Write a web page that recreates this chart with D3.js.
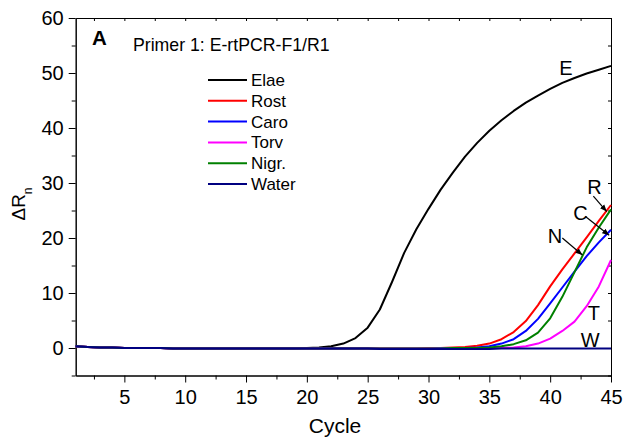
<!DOCTYPE html>
<html>
<head>
<meta charset="utf-8">
<script src="https://cdn.jsdelivr.net/npm/d3@7"></script>
<style>
  body { margin: 0; background: #fff; }
  svg { display: block; font-family: Arial, "Liberation Sans", sans-serif; }
</style>
</head>
<body>
<svg id="chart" width="625" height="444"></svg>
<script>
// amplification data, cycles 1..45
const cycles = d3.range(1, 46);
const elae = [0.3,0.2,0.1,0.1,0,0,0,0,-0.1,-0.1,-0.1,-0.1,-0.1,-0.1,-0.1,-0.1,-0.1,-0.1,-0.1,0,
  0.1,0.3,0.8,1.8,3.7,7.0,12.0,17.3,21.6,25.3,28.8,31.9,34.8,37.3,39.5,41.4,43.1,44.6,45.9,47.1,48.2,49.1,49.9,50.6,51.3];
const rost = [0.3,0.2,0.1,0.1,0,0,0,0,-0.1,-0.1,-0.1,-0.1,-0.1,-0.1,-0.1,-0.1,-0.1,-0.1,-0.1,-0.1,
  -0.1,-0.1,-0.1,-0.1,-0.1,-0.1,-0.1,-0.1,-0.1,0,0,0.1,0.2,0.4,0.8,1.6,2.9,4.9,7.8,11.2,14.3,17.2,20.1,23.1,26.0];
const caro = [0.3,0.2,0.1,0.1,0,0,0,0,-0.1,-0.1,-0.1,-0.1,-0.1,-0.1,-0.1,-0.1,-0.1,-0.1,-0.1,-0.1,
  -0.1,-0.1,-0.1,-0.1,-0.1,-0.1,-0.1,-0.1,-0.1,-0.1,0,0,0,0.1,0.3,0.8,1.6,3.1,5.3,8.1,11.0,13.9,16.7,19.2,21.5];
const torv = [0.3,0.2,0.1,0.1,0,0,0,0,-0.1,-0.1,-0.1,-0.1,-0.1,-0.1,-0.1,-0.1,-0.1,-0.1,-0.1,-0.1,
  -0.1,-0.1,-0.1,-0.1,-0.1,-0.1,-0.1,-0.1,-0.1,-0.1,-0.1,-0.1,0,0,0,0,0.1,0.3,0.8,1.7,3.1,4.8,7.6,11.2,16.0];
const nigr = [0.3,0.2,0.1,0.1,0,0,0,0,-0.1,-0.1,-0.1,-0.1,-0.1,-0.1,-0.1,-0.1,-0.1,-0.1,-0.1,-0.1,
  -0.1,-0.1,-0.1,-0.1,-0.1,-0.1,-0.1,-0.1,-0.1,-0.1,-0.1,0,0,0,0.1,0.3,0.7,1.4,2.8,5.4,9.3,13.8,18.3,21.9,25.2];
const water = [0.3,0.2,0.1,0.1,0,0,0,0,-0.1,-0.1,-0.1,-0.1,-0.1,-0.1,-0.1,-0.1,-0.1,-0.1,-0.1,-0.1,
  -0.1,-0.1,-0.1,-0.1,-0.1,-0.2,-0.2,-0.2,-0.2,-0.2,-0.2,-0.2,-0.2,-0.2,-0.2,-0.1,-0.1,-0.1,-0.1,-0.1,-0.1,-0.1,-0.1,-0.1,-0.1];

const seriesNames = ['Elae', 'Rost', 'Caro', 'Torv', 'Nigr.', 'Water'];
const seriesValues = [elae, rost, caro, torv, nigr, water];
const seriesColors = ['#000000', '#ff0000', '#0000ff', '#ff00ff', '#008000', '#000080'];

const xMajorTicks = [5, 10, 15, 20, 25, 30, 35, 40, 45];
const xMinorTicks = [2.5, 7.5, 12.5, 17.5, 22.5, 27.5, 32.5, 37.5, 42.5];
const yMajorTicks = [0, 10, 20, 30, 40, 50, 60];
const yMinorTicks = [-5, 5, 15, 25, 35, 45, 55];

// curve labels and pointer arrows, in data units
const curveLabels = [
  { text: 'E', x: 41.3, y: 49.7 },
  { text: 'R', x: 43.65, y: 28.0 },
  { text: 'C', x: 42.5, y: 23.3 },
  { text: 'N', x: 40.4, y: 19.1 },
  { text: 'T', x: 43.6, y: 5.1 },
  { text: 'W', x: 43.3, y: 0.2 },
];
const arrows = [
  { x1: 43.55, y1: 27.6, x2: 44.65, y2: 24.8 },
  { x1: 42.9, y1: 23.9, x2: 44.85, y2: 20.5 },
  { x1: 41.0, y1: 20.0, x2: 42.65, y2: 16.9 },
];

const svg = d3.select('#chart');
const margin = { top: 18, right: 14, bottom: 68.5, left: 75.7 };
const W = 625, H = 444;
const x = d3.scaleLinear().domain([1, 45]).range([margin.left, W - margin.right]);
const y = d3.scaleLinear().domain([-5, 60]).range([H - margin.bottom, margin.top]);

// axes
const axisG = svg.append('g').attr('class', 'axes');
function styleAxis(g) {
  g.select('.domain').attr('stroke', '#000').attr('stroke-width', 1);
  g.selectAll('.tick line').attr('stroke', '#000').attr('stroke-width', 1);
  g.selectAll('.tick text').attr('fill', '#000').attr('font-size', 20)
    .attr('font-family', 'Arial, "Liberation Sans", sans-serif');
}

axisG.append('g').attr('transform', `translate(0,${y(-5)})`)
  .call(d3.axisBottom(x).tickValues(xMajorTicks).tickSize(7).tickPadding(7).tickSizeOuter(0))
  .call(styleAxis);
axisG.append('g').attr('transform', `translate(0,${y(-5)})`)
  .call(d3.axisBottom(x).tickValues(xMinorTicks).tickSize(4).tickFormat('').tickSizeOuter(0))
  .call(styleAxis);
axisG.append('g').attr('transform', `translate(${x(1)},0)`)
  .call(d3.axisLeft(y).tickValues(yMajorTicks).tickSize(7).tickPadding(5).tickSizeOuter(0))
  .call(styleAxis);
axisG.append('g').attr('transform', `translate(${x(1)},0)`)
  .call(d3.axisLeft(y).tickValues(yMinorTicks).tickSize(4).tickFormat('').tickSizeOuter(0))
  .call(styleAxis);
// top and right frame with inward ticks
axisG.append('g').attr('transform', `translate(0,${y(60)})`)
  .call(d3.axisBottom(x).tickValues(xMajorTicks.concat(xMinorTicks)).tickSize(3).tickFormat('').tickSizeOuter(0))
  .call(styleAxis);
axisG.append('g').attr('transform', `translate(${x(45)},0)`)
  .call(d3.axisLeft(y).tickValues(yMajorTicks.concat(yMinorTicks)).tickSize(3).tickFormat('').tickSizeOuter(0))
  .call(styleAxis);

// axis titles
svg.append('text')
  .attr('x', 335).attr('y', 433)
  .attr('text-anchor', 'middle').attr('font-size', 21)
  .text('Cycle');

const yTitle = svg.append('text')
  .attr('transform', 'translate(25,204) rotate(-90)')
  .attr('text-anchor', 'middle').attr('font-size', 19);
yTitle.append('tspan').text('\u0394R');
yTitle.append('tspan').attr('font-size', 12).attr('dy', 7).text('n');

// curves
const line = d3.line()
  .x((d, i) => x(cycles[i]))
  .y((d) => y(d));

svg.append('g').selectAll('path')
  .data(seriesValues)
  .join('path')
  .attr('d', (d) => line(d))
  .attr('fill', 'none')
  .attr('stroke', (d, i) => seriesColors[i])
  .attr('stroke-width', 2)
  .attr('stroke-linejoin', 'round');

// panel title
svg.append('text').attr('x', 92).attr('y', 45)
  .attr('font-size', 20.5).attr('font-weight', 'bold').text('A');
svg.append('text').attr('x', 133).attr('y', 50.7)
  .attr('font-size', 17.7).text('Primer 1: E-rtPCR-F1/R1');

// legend
const legend = svg.append('g').attr('transform', 'translate(208,80)');
const rows = legend.selectAll('g')
  .data(seriesNames)
  .join('g')
  .attr('transform', (d, i) => `translate(0,${i * 20.8})`);
rows.append('line')
  .attr('x1', 0).attr('x2', 39)
  .attr('stroke', (d, i) => seriesColors[i])
  .attr('stroke-width', 2);
rows.append('text')
  .attr('x', 43).attr('y', 6)
  .attr('font-size', 17)
  .text((d) => d);

// arrowheads
svg.append('defs').append('marker')
  .attr('id', 'arrow')
  .attr('viewBox', '0 0 10 10')
  .attr('refX', 10).attr('refY', 5)
  .attr('markerWidth', 7).attr('markerHeight', 7)
  .attr('markerUnits', 'userSpaceOnUse')
  .attr('orient', 'auto')
  .append('path').attr('d', 'M0,1 L10,5 L0,9 Z').attr('fill', '#000');

svg.append('g').selectAll('line')
  .data(arrows)
  .join('line')
  .attr('x1', (d) => x(d.x1)).attr('y1', (d) => y(d.y1))
  .attr('x2', (d) => x(d.x2)).attr('y2', (d) => y(d.y2))
  .attr('stroke', '#000').attr('stroke-width', 1.2)
  .attr('marker-end', 'url(#arrow)');

svg.append('g').selectAll('text')
  .data(curveLabels)
  .join('text')
  .attr('x', (d) => x(d.x)).attr('y', (d) => y(d.y))
  .attr('text-anchor', 'middle')
  .attr('font-size', 20)
  .text((d) => d.text);
</script>
</body>
</html>
